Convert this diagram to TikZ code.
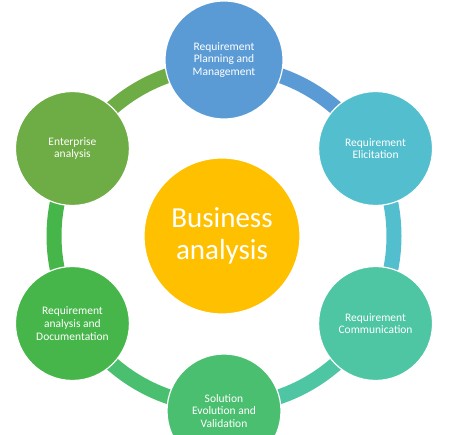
\documentclass[tikz,border=0pt]{standalone}
\usepackage{fontspec}
\setmainfont{Carlito}
\definecolor{planC}{HTML}{5B9BD5}
\definecolor{eliC}{HTML}{53BFCE}
\definecolor{comC}{HTML}{4EC6A3}
\definecolor{solC}{HTML}{4ABF70}
\definecolor{docC}{HTML}{47B64A}
\definecolor{entC}{HTML}{6EAC45}
\definecolor{goldC}{HTML}{FFC000}
\tikzset{
  stage/.style={circle, draw=white, line width=1.2pt, minimum size=114pt, inner sep=0pt,
    align=center, text=white, font=\fontsize{11.5}{12.7}\selectfont},
  hub/.style={circle, draw=white, line width=1.2pt, minimum size=156pt, inner sep=0pt,
    align=center, text=white, fill=goldC, font=\fontsize{29}{32}\selectfont},
  ringarc/.style={line width=15pt}
}
\begin{document}
\begin{tikzpicture}[x=1pt,y=1pt]
\useasboundingbox (0,0) rectangle (457,434);
\clip (0,0) rectangle (457,434);
\coordinate (C) at (224,198);
% ring points
\foreach \a/\n in {90/rt,30/rur,-30/rlr,-90/rb,-150/rll,150/rul}{
  \coordinate (\n) at ([shift={(\a:170pt)}]C);
}
\draw[ringarc, planC] (rt)  arc[start angle=90,  end angle=30,   radius=170pt];
\draw[ringarc, eliC]  (rur) arc[start angle=30,  end angle=-30,  radius=170pt];
\draw[ringarc, comC]  (rlr) arc[start angle=-30, end angle=-90,  radius=170pt];
\draw[ringarc, solC]  (rb)  arc[start angle=-90, end angle=-150, radius=170pt];
\draw[ringarc, docC]  (rll) arc[start angle=-150,end angle=-210, radius=170pt];
\draw[ringarc, entC]  (rul) arc[start angle=150, end angle=90,   radius=170pt];
% hub
\node[hub] (ba) at ([xshift=-2pt]C) {Business\\analysis};
% stages
\node[stage, fill=planC, minimum size=118pt] (plan) at ([shift={(90:176pt)}]C) {Requirement\\Planning and\\Management};
\node[stage, fill=eliC] (eli) at ([shift={(30:175pt)}]C) {Requirement\\Elicitation};
\node[stage, fill=comC] (com) at ([shift={(-30:175pt)}]C) {Requirement\\Communication};
\node[stage, fill=solC] (sol) at ([shift={(-90:175pt)}]C) {Solution\\Evolution and\\Validation};
\node[stage, fill=docC] (doc) at ([shift={(-150:175pt)}]C) {Requirement\\analysis and\\Documentation};
\node[stage, fill=entC] (ent) at ([shift={(150:175pt)}]C) {Enterprise\\analysis};
\end{tikzpicture}
\end{document}
